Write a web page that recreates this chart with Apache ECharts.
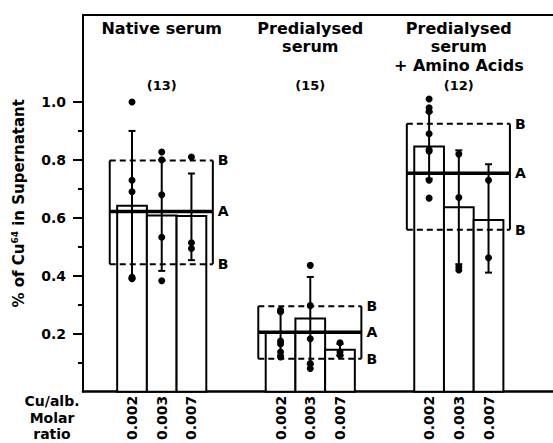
<!DOCTYPE html>
<html>
<head>
<meta charset="utf-8">
<script src="https://cdn.jsdelivr.net/npm/echarts@6/dist/echarts.min.js"></script>
<style>
  html, body { margin: 0; padding: 0; background: #fff; }
  #chart { width: 553px; height: 443px; }
</style>
</head>
<body>
<div id="chart"></div>
<script>
// --- data ---
const groupNames = ['Native serum', 'Predialysed\nserum', 'Predialysed\nserum\n+ Amino Acids'];
const groupCounts = ['(13)', '(15)', '(12)'];
const ratioLabels = ['0.002', '0.003', '0.007'];
const yMajorTicks = [0.2, 0.4, 0.6, 0.8, 1.0];
const yMinorTicks = [0.1, 0.3, 0.5, 0.7, 0.9];

// bar height per group, per Cu/alb ratio
const barMeans = [
  [0.642, 0.608, 0.606],
  [0.205, 0.253, 0.145],
  [0.846, 0.637, 0.593]
];
const errTop = [
  [0.90, 0.80, 0.753],
  [0.275, 0.396, 0.165],
  [0.965, 0.833, 0.785]
];
const errBottom = [
  [0.39, 0.417, 0.454],
  [0.125, 0.095, 0.125],
  [0.735, 0.44, 0.411]
];
// box lines: A = mean of group, B = upper / lower limits
const lineA = [0.622, 0.205, 0.754];
const lineBTop = [0.798, 0.295, 0.925];
const lineBBottom = [0.440, 0.114, 0.559];

// individual measurements
const points = [
  [[1.0, 0.73, 0.69, 0.395, 0.39], [0.827, 0.80, 0.68, 0.533, 0.383], [0.81, 0.514, 0.494]],
  [[0.282, 0.276, 0.175, 0.165, 0.137, 0.12], [0.436, 0.297, 0.183, 0.097, 0.08], [0.169, 0.137, 0.126]],
  [[1.01, 0.98, 0.967, 0.89, 0.835, 0.83, 0.73, 0.668], [0.82, 0.67, 0.43, 0.42], [0.73, 0.462]]
];

// --- layout in x units (one unit = one bar width) ---
const X_MAX = 15.82;
const GROUP_STEP = 5;
const BAR_OFFSET = 1.15;
const FONT = 'DejaVu Sans';

function barLeft(g, k) { return g * GROUP_STEP + k + BAR_OFFSET; }
function barCenter(g, k) { return barLeft(g, k) + 0.5; }

const labelCenters = [];
groupNames.forEach((_, g) => ratioLabels.forEach((_, k) => labelCenters.push(barCenter(g, k))));

const barData = [];
const errData = [];
const pointData = [];
barMeans.forEach((row, g) => row.forEach((v, k) => {
  barData.push([g, k, v]);
  errData.push([g, k, errBottom[g][k], errTop[g][k]]);
  points[g][k].forEach((p) => pointData.push([barCenter(g, k), p]));
}));
const boxData = lineA.map((a, g) => [g, a, lineBTop[g], lineBBottom[g]]);

const chart = echarts.init(document.getElementById('chart'), null, { renderer: 'svg' });

const textBase = { fontFamily: FONT, fontWeight: 'bold', fill: '#000' };

chart.setOption({
  animation: false,
  backgroundColor: '#fff',
  grid: { left: 83, right: 0, top: 15, bottom: 48 },
  xAxis: [
    {
      type: 'value', min: 0, max: X_MAX, position: 'bottom',
      axisLine: { show: true, onZero: false, lineStyle: { color: '#000', width: 2.5 } },
      axisTick: { show: false },
      splitLine: { show: false },
      axisLabel: {
        customValues: labelCenters,
        rotate: 90,
        margin: 4,
        color: '#000',
        fontFamily: FONT,
        fontWeight: 'bold',
        fontSize: 14,
        formatter: (v) => {
          const i = labelCenters.findIndex((c) => Math.abs(c - v) < 1e-6);
          return i < 0 ? '' : ratioLabels[i % ratioLabels.length];
        }
      }
    },
    {
      type: 'value', min: 0, max: X_MAX, position: 'top',
      axisLine: { show: true, onZero: false, lineStyle: { color: '#000', width: 2 } },
      axisTick: { show: false },
      axisLabel: { show: false },
      splitLine: { show: false }
    }
  ],
  yAxis: [
    {
      type: 'value', min: 0, max: 1.3, position: 'left',
      axisLine: { show: true, onZero: false, lineStyle: { color: '#000', width: 2 } },
      axisTick: { show: true, customValues: yMajorTicks, length: 10, lineStyle: { color: '#000', width: 2 } },
      axisLabel: {
        customValues: yMajorTicks, margin: 17, color: '#000',
        fontFamily: FONT, fontWeight: 'bold', fontSize: 14,
        formatter: (v) => v.toFixed(1)
      },
      splitLine: { show: false },
      name: '% of Cu{sup|64} in Supernatant',
      nameLocation: 'middle',
      nameRotate: 90,
      nameGap: 55,
      nameTextStyle: {
        color: '#000', fontFamily: FONT, fontWeight: 'bold', fontSize: 15, lineHeight: 18,
        rich: {
          sup: { color: '#000', fontFamily: FONT, fontWeight: 'bold', fontSize: 9, lineHeight: 10, verticalAlign: 'top' }
        }
      }
    },
    {
      type: 'value', min: 0, max: 1.3, position: 'left',
      axisLine: { show: false },
      axisTick: { show: true, customValues: yMinorTicks, length: 5, lineStyle: { color: '#000', width: 2 } },
      axisLabel: { show: false },
      splitLine: { show: false }
    }
  ],
  graphic: [
    {
      type: 'text', x: 52, y: 393,
      style: Object.assign({}, textBase, {
        text: 'Cu/alb.\nMolar\nratio', fontSize: 14, lineHeight: 16.5,
        textAlign: 'center', textVerticalAlign: 'top'
      })
    }
  ],
  series: [
    {
      type: 'custom', name: 'bars', z: 1, data: barData,
      renderItem: (params, api) => {
        const x0 = barLeft(api.value(0), api.value(1));
        const p0 = api.coord([x0, 0]);
        const p1 = api.coord([x0 + 1, api.value(2)]);
        return {
          type: 'rect',
          shape: { x: p0[0], y: p1[1], width: p1[0] - p0[0], height: p0[1] - p1[1] },
          style: { fill: '#fff', stroke: '#000', lineWidth: 2 }
        };
      }
    },
    {
      type: 'custom', name: 'boxes', z: 2, data: boxData,
      renderItem: (params, api) => {
        const g = api.value(0);
        const xl = barLeft(g, 0) - 0.25;
        const xr = barLeft(g, 2) + 1.22;
        const a = api.coord([xl, api.value(1)]);
        const aR = api.coord([xr, api.value(1)]);
        const bt = api.coord([xl, api.value(2)]);
        const btR = api.coord([xr, api.value(2)]);
        const bb = api.coord([xl, api.value(3)]);
        const bbR = api.coord([xr, api.value(3)]);
        const cx = api.coord([barCenter(g, 1), 0])[0];
        const solid = { stroke: '#000', lineWidth: 2 };
        const dashed = { stroke: '#000', lineWidth: 2, lineDash: [6, 4] };
        return {
          type: 'group',
          children: [
            { type: 'line', shape: { x1: bt[0], y1: bt[1], x2: bb[0], y2: bb[1] }, style: solid },
            { type: 'line', shape: { x1: btR[0], y1: btR[1], x2: bbR[0], y2: bbR[1] }, style: solid },
            { type: 'line', shape: { x1: bt[0], y1: bt[1], x2: btR[0], y2: btR[1] }, style: dashed },
            { type: 'line', shape: { x1: bb[0], y1: bb[1], x2: bbR[0], y2: bbR[1] }, style: dashed },
            { type: 'line', shape: { x1: a[0], y1: a[1], x2: aR[0], y2: aR[1] }, style: { stroke: '#000', lineWidth: 3.5 } },
            { type: 'text', x: aR[0] + 5, y: aR[1], style: Object.assign({}, textBase, { text: 'A', fontSize: 14, textVerticalAlign: 'middle' }) },
            { type: 'text', x: btR[0] + 5, y: btR[1], style: Object.assign({}, textBase, { text: 'B', fontSize: 14, textVerticalAlign: 'middle' }) },
            { type: 'text', x: bbR[0] + 5, y: bbR[1], style: Object.assign({}, textBase, { text: 'B', fontSize: 14, textVerticalAlign: 'middle' }) },
            { type: 'text', x: cx, y: 19, style: Object.assign({}, textBase, {
                text: groupNames[g], fontSize: 16, lineHeight: 18.5, textAlign: 'center', textVerticalAlign: 'top' }) },
            { type: 'text', x: cx, y: 85, style: Object.assign({}, textBase, {
                text: groupCounts[g], fontSize: 13, textAlign: 'center', textVerticalAlign: 'middle' }) }
          ]
        };
      }
    },
    {
      type: 'custom', name: 'errors', z: 3, data: errData,
      renderItem: (params, api) => {
        const x = barCenter(api.value(0), api.value(1));
        const lo = api.coord([x, api.value(2)]);
        const hi = api.coord([x, api.value(3)]);
        const w = 3.5;
        const st = { stroke: '#000', lineWidth: 2 };
        return {
          type: 'group',
          children: [
            { type: 'line', shape: { x1: lo[0], y1: lo[1], x2: hi[0], y2: hi[1] }, style: st },
            { type: 'line', shape: { x1: hi[0] - w, y1: hi[1], x2: hi[0] + w, y2: hi[1] }, style: st },
            { type: 'line', shape: { x1: lo[0] - w, y1: lo[1], x2: lo[0] + w, y2: lo[1] }, style: st }
          ]
        };
      }
    },
    {
      type: 'scatter', name: 'points', z: 4, data: pointData,
      symbol: 'circle', symbolSize: 7,
      itemStyle: { color: '#000', opacity: 1 }
    }
  ]
});
</script>
</body>
</html>
